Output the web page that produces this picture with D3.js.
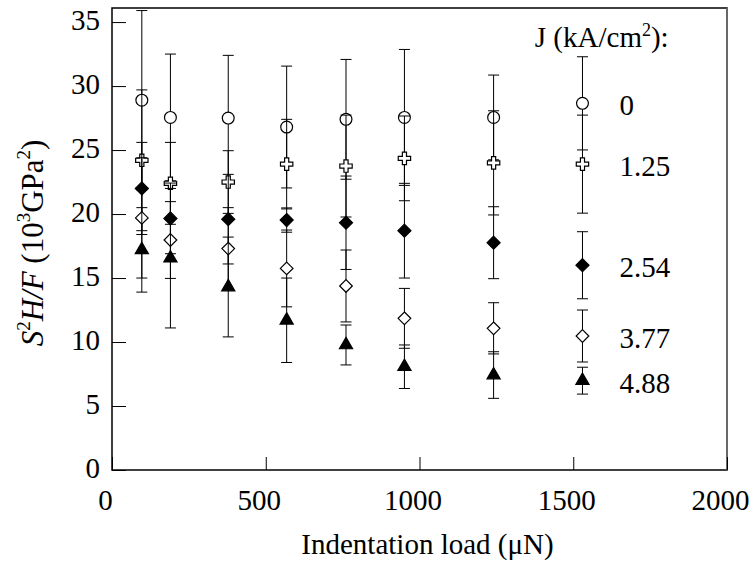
<!DOCTYPE html>
<html>
<head>
<meta charset="utf-8">
<script src="https://cdn.jsdelivr.net/npm/d3@7"></script>
<style>
  body { margin: 0; background: #fff; }
  text { font-family: "Liberation Serif", "Times New Roman", serif; fill: #000; }
</style>
</head>
<body>
<svg id="chart" width="754" height="569"></svg>
<script>
// indentation loads (uN) for every column of points
var loads = [97, 190, 378, 568, 761, 951, 1241, 1530];

// S^2H/F values (10^3 GPa^2) and error half-widths, one pair per current density
var j0      = [28.9, 27.55, 27.5, 26.8, 27.4, 27.55, 27.55, 28.65];
var j0Err   = [7.0, 4.95, 4.9, 4.76, 4.68, 5.31, 3.31, 3.64];
var j125    = [24.2, 22.4, 22.5, 23.9, 23.75, 24.35, 24.0, 23.9];
var j125Err = [5.5, 3.2, 2.45, 3.5, 3.98, 3.31, 4.07, 3.83];
var j254    = [22.0, 19.66, 19.6, 19.53, 19.32, 18.7, 17.76, 16.0];
var j254Err = [3.6, 2.76, 3.5, 0.95, 3.65, 3.7, 2.81, 2.62];
var j377    = [19.7, 17.97, 17.3, 15.75, 14.38, 11.85, 11.07, 10.47];
var j377Err = [4.7, 3.0, 3.2, 3.0, 2.81, 2.34, 2.0, 2.03];
var j488    = [17.2, 16.55, 14.3, 11.7, 9.77, 8.07, 7.42, 6.98];
var j488Err = [3.3, 5.45, 3.9, 3.3, 1.56, 1.7, 1.82, 1.05];

var seriesLabels = ["0", "1.25", "2.54", "3.77", "4.88"];
var xTicks = [0, 500, 1000, 1500, 2000];
var yTicks = [0, 5, 10, 15, 20, 25, 30, 35];

var svg = d3.select("#chart");
var margin = {top: 8, right: 27, bottom: 99, left: 112},
    width = +svg.attr("width") - margin.left - margin.right,
    height = +svg.attr("height") - margin.top - margin.bottom;

var g = svg.append("g")
    .attr("transform", "translate(" + margin.left + "," + margin.top + ")");

var x = d3.scaleLinear().domain([0, 2000]).range([0, width]);
var y = d3.scaleLinear().domain([0, 36.1]).range([height, 0]);

var fs = 29;

// diamond drawn as a square turned 45 degrees
var diamond = {
    draw: function(ctx, size) {
        var r = Math.sqrt(size / 2);
        ctx.moveTo(0, -r); ctx.lineTo(r, 0); ctx.lineTo(0, r); ctx.lineTo(-r, 0); ctx.closePath();
    }
};

var series = [
    {vals: j0,   err: j0Err,   type: d3.symbolCircle,   size: 110, fill: "#fff"},
    {vals: j125, err: j125Err, type: d3.symbolCross,    size: 85,  fill: "#fff"},
    {vals: j254, err: j254Err, type: diamond,           size: 85,  fill: "#000"},
    {vals: j377, err: j377Err, type: diamond,           size: 80,  fill: "#fff"},
    {vals: j488, err: j488Err, type: d3.symbolTriangle, size: 75,  fill: "#000"}
];

// frame
g.append("rect")
    .attr("width", width).attr("height", height)
    .attr("fill", "none").attr("stroke", "#000").attr("stroke-width", 1.5);
g.append("line")
    .attr("x1", width).attr("x2", width).attr("y1", 0).attr("y2", height)
    .attr("stroke", "#777").attr("stroke-width", 1.5);

// y axis, ticks pointing inward
var yAxis = g.append("g")
    .call(d3.axisLeft(y).tickValues(yTicks).tickSize(-14).tickPadding(12));
yAxis.select(".domain").remove();
yAxis.selectAll(".tick line").attr("stroke", "#000");
yAxis.selectAll(".tick text")
    .attr("font-size", fs).attr("font-family", "Liberation Serif").attr("dy", "0.25em")
    .attr("x", -12);

// x axis, ticks pointing inward
var xAxis = g.append("g")
    .attr("transform", "translate(0," + height + ")")
    .call(d3.axisBottom(x).tickValues(xTicks).tickFormat(d3.format("d")).tickSize(-13).tickPadding(14));
xAxis.select(".domain").remove();
xAxis.selectAll(".tick line").attr("stroke", "#000");
xAxis.selectAll(".tick text")
    .attr("font-size", fs).attr("font-family", "Liberation Serif").attr("dx", -7).attr("y", 19);

// error bars and markers, series by series
var capW = 5.5;
series.forEach(function(s) {
    var pts = loads.map(function(l, i) { return {x: l, v: s.vals[i], e: s.err[i]}; });
    var eb = g.append("g");
    eb.selectAll("line.bar").data(pts).enter().append("line")
        .attr("x1", function(d) { return x(d.x); })
        .attr("x2", function(d) { return x(d.x); })
        .attr("y1", function(d) { return y(d.v + d.e); })
        .attr("y2", function(d) { return y(d.v - d.e); })
        .attr("stroke", "#000").attr("stroke-width", 1);
    [1, -1].forEach(function(sign) {
        eb.selectAll(null).data(pts).enter().append("line")
            .attr("x1", function(d) { return x(d.x) - capW; })
            .attr("x2", function(d) { return x(d.x) + capW; })
            .attr("y1", function(d) { return y(d.v + sign * d.e); })
            .attr("y2", function(d) { return y(d.v + sign * d.e); })
            .attr("stroke", "#000").attr("stroke-width", 1);
    });
    g.append("g").selectAll("path").data(pts).enter().append("path")
        .attr("d", d3.symbol().type(s.type).size(s.size))
        .attr("transform", function(d) { return "translate(" + x(d.x) + "," + y(d.v) + ")"; })
        .attr("fill", s.fill).attr("stroke", "#000").attr("stroke-width", 1.2);
});

// legend labels next to the last column
var last = loads.length - 1;
g.selectAll("text.lab").data(series).enter().append("text")
    .attr("class", "lab")
    .attr("x", x(loads[last]) + 37)
    .attr("y", function(s) { return y(s.vals[last]) + 12; })
    .attr("font-size", fs)
    .text(function(s, i) { return seriesLabels[i]; });

var jt = g.append("text")
    .attr("x", x(1375)).attr("y", 39)
    .attr("font-size", fs);
jt.append("tspan").text("J (kA/cm");
jt.append("tspan").attr("font-size", 18).attr("dy", -11).text("2");
jt.append("tspan").attr("dy", 11).text("):");

// axis titles
g.append("text")
    .attr("x", width / 2 + 8).attr("y", height + 84)
    .attr("text-anchor", "middle").attr("font-size", fs)
    .text("Indentation load (\u03bcN)");

var yt = svg.append("text")
    .attr("transform", "translate(43," + (margin.top + height / 2 + 4) + ") rotate(-90)")
    .attr("text-anchor", "middle").attr("font-size", 31);
yt.append("tspan").attr("font-style", "italic").text("S");
yt.append("tspan").attr("font-size", 19).attr("dy", -13).text("2");
yt.append("tspan").attr("dy", 13).attr("font-style", "italic").text("H/F");
yt.append("tspan").text(" (10");
yt.append("tspan").attr("font-size", 19).attr("dy", -13).text("3");
yt.append("tspan").attr("dy", 13).text("GPa");
yt.append("tspan").attr("font-size", 19).attr("dy", -13).text("2");
yt.append("tspan").attr("dy", 13).text(")");
</script>
</body>
</html>
